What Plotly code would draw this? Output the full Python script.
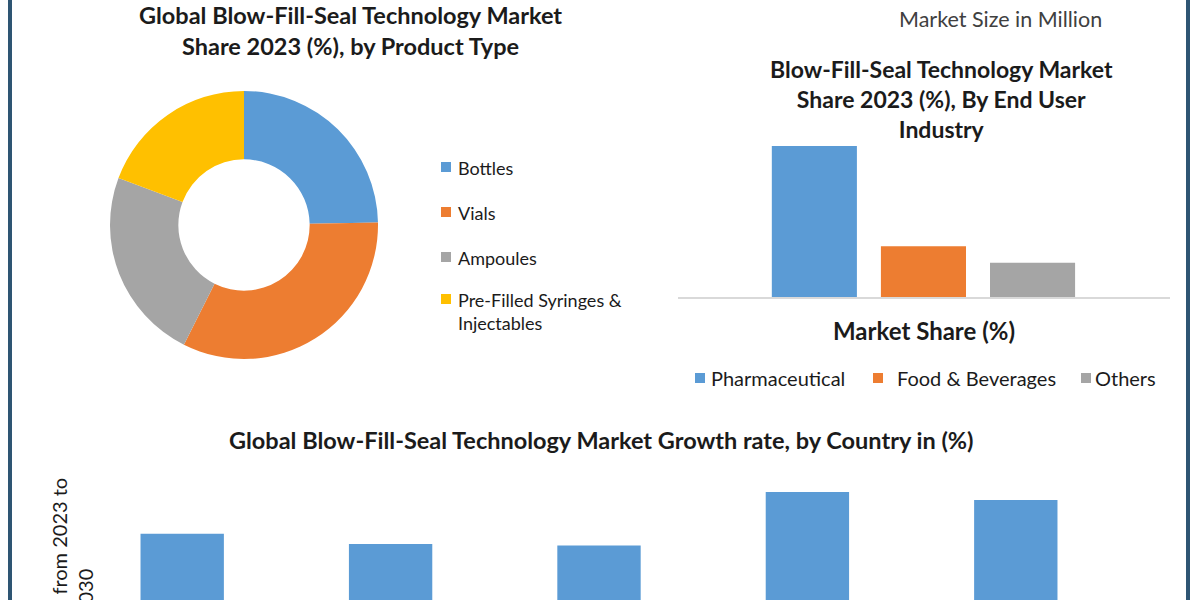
import plotly.graph_objects as go

# ---------------- data ----------------
product_types = ["Bottles", "Vials", "Ampoules", "Pre-Filled Syringes &<br>Injectables"]
product_share = [24.7, 32.7, 23.3, 19.3]
product_colors = ["#5B9BD5", "#ED7D31", "#A5A5A5", "#FFC000"]

end_users = ["Pharmaceutical", "Food & Beverages", "Others"]
end_user_share = [64.0, 21.5, 14.5]
end_user_colors = ["#5B9BD5", "#ED7D31", "#A5A5A5"]

countries = ["US", "Germany", "UK", "China", "India"]
country_growth = [6.4, 6.0, 5.95, 8.0, 7.7]

W, H = 1200, 600
FONT = "Lato"
DARK = "#1b1b1b"


def px(x):
    return x / W


def py(y):
    return 1 - y / H


fig = go.Figure()

# Donut
fig.add_trace(go.Pie(
    labels=product_types, values=product_share, sort=False, direction="clockwise",
    rotation=0, hole=0.49, textinfo="none", showlegend=False,
    marker=dict(colors=product_colors, line=dict(width=0)),
    domain=dict(x=[px(110), px(378)], y=[py(359), py(91)]),
))

# End-user bars
fig.add_trace(go.Bar(
    x=end_users, y=end_user_share, marker=dict(color=end_user_colors, line=dict(width=0)),
    xaxis="x", yaxis="y", showlegend=False, width=0.78,
))

# Country growth bars
fig.add_trace(go.Bar(
    x=countries, y=country_growth, marker=dict(color="#5B9BD5", line=dict(width=0)),
    xaxis="x2", yaxis="y2", showlegend=False, width=0.4,
))

fig.update_layout(
    width=W, height=H,
    margin=dict(l=0, r=0, t=0, b=0),
    paper_bgcolor="white", plot_bgcolor="rgba(0,0,0,0)",
    font=dict(family=FONT, color=DARK),
    xaxis=dict(domain=[px(678), px(1170)], range=[-1.25, 3.26], showticklabels=False,
               showgrid=False, zeroline=False, showline=True, linecolor="#D9D9D9",
               linewidth=1.5, ticks=""),
    yaxis=dict(domain=[py(297), py(140)], range=[0, 66.5], visible=False),
    xaxis2=dict(domain=[px(78), px(1120)], range=[-0.5, 4.5], showticklabels=False,
                showgrid=False, zeroline=False, showline=False, ticks=""),
    yaxis2=dict(domain=[0, py(470)], range=[3.85, 8.85], visible=False),
)

ann = []


def text(x, y, s, size=20, bold=True, color=DARK, xanchor="center", yanchor="middle", **kw):
    ann.append(dict(x=px(x), y=py(y), xref="paper", yref="paper", text=(f"<b>{s}</b>" if bold else s),
                    showarrow=False, xanchor=xanchor, yanchor=yanchor,
                    font=dict(family=FONT, size=size, color=color), **kw))


text(350, 30, "Global Blow-Fill-Seal Technology Market<br>Share 2023 (%), by Product Type", size=23.5)
text(1000, 19, "Market Size in Million", size=21.5, bold=False, color="#404040")
text(941, 99, "Blow-Fill-Seal Technology Market<br>Share 2023 (%), By End User<br>Industry", size=23)
text(924, 330, "Market Share (%)", size=24)
text(601, 440, "Global Blow-Fill-Seal Technology Market Growth rate, by Country in (%)", size=23.5)

# Donut legend
shapes = []
leg_y = [167, 212, 257, 299]
for lab, col, y in zip(product_types, product_colors, leg_y):
    shapes.append(dict(type="rect", xref="paper", yref="paper", x0=px(441), x1=px(451),
                       y0=py(y + 5), y1=py(y - 5), fillcolor=col, line=dict(width=0)))
    ann.append(dict(x=px(456), y=py(y - 12), xref="paper", yref="paper", text=lab, showarrow=False,
                    xanchor="left", yanchor="top", align="left",
                    font=dict(family=FONT, size=18, color=DARK)))

# End-user legend
leg_sq = [695, 873, 1081]
leg_tx = [709, 895, 1093]
for lab, col, xs, xt in zip(end_users, end_user_colors, leg_sq, leg_tx):
    shapes.append(dict(type="rect", xref="paper", yref="paper", x0=px(xs), x1=px(xs + 10),
                       y0=py(383), y1=py(373), fillcolor=col, line=dict(width=0)))
    text(xt, 378, lab, size=20, bold=False, xanchor="left")

# Y axis title for bottom chart (cut off at bottom, as in the original)
ann.append(dict(x=px(72), y=py(592), xref="paper", yref="paper",
                text="Growth rate from 2023 to<br>2030", showarrow=False, textangle=-90,
                xanchor="center", yanchor="middle", font=dict(family=FONT, size=20, color=DARK)))

# Side borders
for x in (10, 1188):
    shapes.append(dict(type="line", xref="paper", yref="paper", x0=px(x), x1=px(x), y0=0, y1=1,
                       line=dict(color="#2E5573", width=4)))

fig.update_layout(annotations=ann, shapes=shapes)
fig.write_html("out.html")
